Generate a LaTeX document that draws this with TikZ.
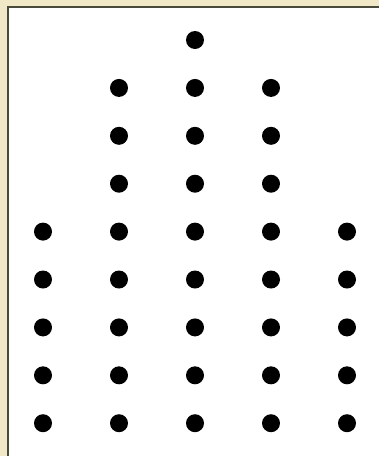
\documentclass[tikz,border=0pt]{standalone}
\usepackage{xcolor}
\usetikzlibrary{positioning}
\definecolor{frame}{HTML}{F0E8C6}
\definecolor{edge}{HTML}{4A4A3C}

\begin{document}
\begin{tikzpicture}[
    x=1pt,y=-1pt,
    dot/.style={circle,fill=black,inner sep=0pt,minimum size=18pt}
  ]
    \useasboundingbox (0,0) rectangle (379,456);
    \fill[frame] (0,0) rectangle (379,456);
    \fill[white] (7,6) rectangle (379,456);
    \draw[edge,line width=1.6pt] (7.8,456) -- (7.8,6.8) -- (379,6.8);

    % columns with their first row
    \foreach \c/\top in {1/5,2/2,3/1,4/2,5/5}
      \foreach \r in {\top,...,9}
        \node[dot] (d-\c-\r) at ({43+76*(\c-1)},{40+47.9*(\r-1)}) {};
  \end{tikzpicture}
\end{document}
